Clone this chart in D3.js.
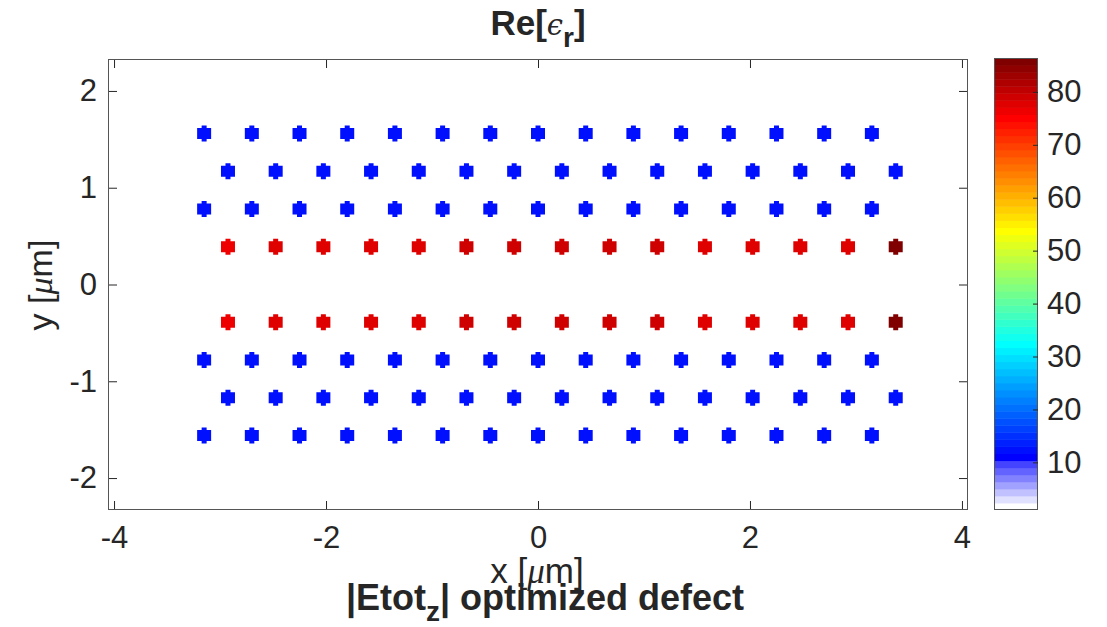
<!DOCTYPE html>
<html>
<head>
<meta charset="utf-8">
<script src="https://cdn.jsdelivr.net/npm/d3@7"></script>
<style>
  body { margin: 0; background: #fff; }
  text { font-family: "Liberation Sans", Arial, Helvetica, sans-serif; fill: #262626; }
</style>
</head>
<body>
<svg id="chart" width="1107" height="627"></svg>
<script>
// lattice columns (um)
const xEven = [-3.15, -2.7, -2.25, -1.8, -1.35, -0.9, -0.45, 0, 0.45, 0.9, 1.35, 1.8, 2.25, 2.7, 3.15];
const xOdd  = [-2.925, -2.475, -2.025, -1.575, -1.125, -0.675, -0.225, 0.225, 0.675, 1.125, 1.575, 2.025, 2.475, 2.925, 3.375];

// rows: y position, which column set, eps values
const rowY = [1.56, 1.17, 0.78, 0.39, -0.39, -0.78, -1.17, -1.56];
const rowCols = ["even", "odd", "even", "odd", "odd", "even", "odd", "even"];
const epsBlue = [12.1, 12.1, 12.1, 12.1, 12.1, 12.1, 12.1, 12.1, 12.1, 12.1, 12.1, 12.1, 12.1, 12.1, 12.1];
const epsDefect = [76.4, 77.6, 77.8, 77.7, 77.5, 79.0, 79.2, 79.3, 79.2, 79.0, 77.8, 77.6, 77.7, 77.5, 86.4];
const rowEps = [epsBlue, epsBlue, epsBlue, epsDefect, epsDefect, epsBlue, epsBlue, epsBlue];

const xTicks = [-4, -2, 0, 2, 4];
const yTicks = [-2, -1, 0, 1, 2];
const cTicks = [10, 20, 30, 40, 50, 60, 70, 80];
const cRange = [1, 86.4];

// jet(64) with the lowest levels faded to white
function jet64() {
  const n = 16;
  const u = [];
  for (let i = 1; i <= n; i++) u.push(i / n);
  for (let i = 1; i < n; i++) u.push(1);
  for (let i = n; i >= 1; i--) u.push(i / n);
  const pick = k => (k >= 1 && k <= u.length) ? u[k - 1] : 0;
  const cols = [];
  for (let j = 1; j <= 64; j++) {
    let r = pick(j - 24), g = pick(j - 8), b = pick(j + 8);
    if (j < 8) { const f = (j - 1) / 7; r = 1 - f * (1 - 1 / 7); g = r; b = 1; }
    cols.push(d3.rgb(r * 255, g * 255, b * 255).formatHex());
  }
  return cols;
}
const cmap = jet64();
const colorOf = v => {
  let i = Math.floor((v - cRange[0]) / (cRange[1] - cRange[0]) * 64);
  i = Math.max(0, Math.min(63, i));
  return cmap[i];
};

const svg = d3.select("#chart");
const L = 108, R = 968, T = 59, B = 510;

const x = d3.scaleLinear().domain([-4.057, 4.057]).range([L, R]);
const y = d3.scaleLinear().domain([-2.33, 2.33]).range([B, T]);

// axes with inward ticks
const fs = 31;
svg.append("g").attr("transform", `translate(0,${B})`)
  .call(d3.axisBottom(x).tickValues(xTicks).tickSize(-9).tickPadding(16).tickFormat(d3.format("d")));
svg.append("g").attr("transform", `translate(${L},0)`)
  .call(d3.axisLeft(y).tickValues(yTicks).tickSize(-9).tickPadding(11).tickFormat(d3.format("d")));
svg.append("g").attr("transform", `translate(0,${T})`)
  .call(d3.axisTop(x).tickValues(xTicks).tickSize(-9).tickFormat(""));
svg.append("g").attr("transform", `translate(${R},0)`)
  .call(d3.axisRight(y).tickValues(yTicks).tickSize(-9).tickFormat(""));

svg.selectAll(".domain").remove();
svg.selectAll(".tick line").attr("stroke", "#262626").attr("stroke-width", 1);
svg.selectAll(".tick text").attr("font-size", fs).attr("fill", "#262626")
  .text(function () { return d3.select(this).text().replace("−", "-"); });

svg.append("rect")
  .attr("x", L + 0.5).attr("y", T + 0.5)
  .attr("width", R - L - 1).attr("height", B - T - 1)
  .attr("fill", "none").attr("stroke", "#555").attr("stroke-width", 1);

// dots
const marker = "M-7,-5.5H-2.5V-8H2.5V-5.5H7V5.5H2.5V8H-2.5V5.5H-7Z";
const pts = [];
rowY.forEach((yy, r) => {
  const cols = rowCols[r] === "even" ? xEven : xOdd;
  cols.forEach((xx, k) => pts.push({ x: xx, y: yy, v: rowEps[r][k] }));
});
svg.append("g").selectAll("path")
  .data(pts).enter().append("path")
  .attr("d", marker)
  .attr("transform", d => `translate(${x(d.x)},${y(d.y)})`)
  .attr("fill", d => colorOf(d.v));

// colorbar
const cx0 = 994, cx1 = 1038;
const c = d3.scaleLinear().domain(cRange).range([510, 58]);
const step = (cRange[1] - cRange[0]) / 64;
svg.append("g").selectAll("rect")
  .data(cmap).enter().append("rect")
  .attr("x", cx0)
  .attr("width", cx1 - cx0)
  .attr("y", (d, i) => c(cRange[0] + (i + 1) * step))
  .attr("height", (d, i) => c(cRange[0] + i * step) - c(cRange[0] + (i + 1) * step) + 0.5)
  .attr("fill", d => d);
svg.append("rect")
  .attr("x", cx0 + 0.5).attr("y", 58.5)
  .attr("width", cx1 - cx0 - 1).attr("height", 451)
  .attr("fill", "none").attr("stroke", "#555");
const gc = svg.append("g").attr("transform", `translate(${cx1},0)`)
  .call(d3.axisRight(c).tickValues(cTicks).tickSize(-5).tickPadding(9));
gc.select(".domain").remove();
gc.selectAll(".tick line").attr("stroke", "#262626");
gc.selectAll(".tick text").attr("font-size", fs).attr("fill", "#262626");

// titles and labels
const title = svg.append("text").attr("x", 538).attr("y", 35)
  .attr("text-anchor", "middle").attr("font-size", 35).attr("font-weight", "bold").attr("fill", "#000");
title.append("tspan").text("Re[");
title.append("tspan").text("ϵ").attr("font-weight", "normal").attr("font-size", 29)
  .attr("font-family", "'DejaVu Serif', serif").attr("font-style", "italic");
title.append("tspan").text("r").attr("font-size", 28).attr("dy", 12);
title.append("tspan").text("]").attr("dy", -12);

const xl = svg.append("text").attr("x", 537).attr("y", 583)
  .attr("text-anchor", "middle").attr("font-size", 35);
xl.append("tspan").text("x [");
xl.append("tspan").text("μ").attr("font-style", "italic").attr("font-family", "'Liberation Serif', serif");
xl.append("tspan").text("m]");

const yl = svg.append("text").attr("transform", "translate(52,285) rotate(-90)")
  .attr("text-anchor", "middle").attr("font-size", 34);
yl.append("tspan").text("y [");
yl.append("tspan").text("μ").attr("font-style", "italic").attr("font-family", "'Liberation Serif', serif");
yl.append("tspan").text("m]");

const bt = svg.append("text").attr("x", 545).attr("y", 610)
  .attr("text-anchor", "middle").attr("font-size", 36).attr("font-weight", "bold").attr("fill", "#000");
bt.append("tspan").text("|Etot");
bt.append("tspan").text("z").attr("font-size", 28).attr("dy", 11);
bt.append("tspan").text("| optimized defect").attr("dy", -11);
</script>
</body>
</html>
